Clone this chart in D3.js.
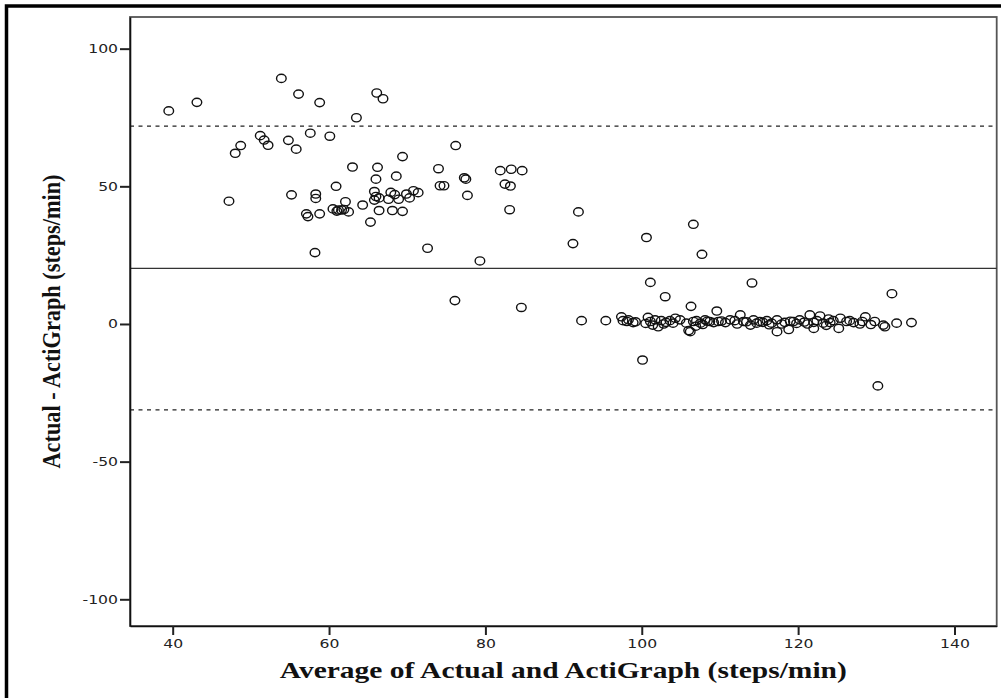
<!DOCTYPE html>
<meta charset="utf-8">
<head>
<script src="https://d3js.org/d3.v7.min.js"></script>
</head>
<style>
    html, body { margin: 0; padding: 0; background: #fff; }
    .tick text { font-family: 'DejaVu Sans', Verdana, sans-serif; font-size: 12.5px; fill: #222; }
    .axis-title { font-family: 'Liberation Serif', 'Times New Roman', serif; font-weight: bold; fill: #111; }
</style>
<body>
<svg width="1001" height="698"></svg>
<script>
    // average of the two methods (x) and their difference (y)
    var avgSteps = [
        39.5, 43.1, 53.9, 56.1, 58.8, 66.1, 66.9, 63.5, 51.2, 51.7, 52.2, 48.7, 48.0, 54.8, 55.8, 57.6,
        60.1, 69.4, 76.2, 47.2, 55.2, 58.3, 58.3, 58.8, 57.1, 57.3, 58.2, 60.9, 63.0, 66.2, 66.0, 68.6,
        62.1, 60.5, 61.2, 61.6, 62.5, 61.0, 61.9, 64.3, 65.3, 65.8, 66.0, 65.8, 66.4, 67.6, 67.9, 68.4,
        68.9, 66.4, 68.1, 69.4, 69.9, 70.3, 70.8, 71.4, 74.0, 81.9, 83.3, 84.7, 74.2, 74.7, 77.3, 77.5,
        82.5, 83.2, 77.7, 83.1, 91.9, 72.6, 91.2, 79.3, 76.1, 84.6, 100.6, 106.6, 107.7, 101.1, 114.1, 132.0,
        103.0, 106.3, 109.6, 100.1, 130.2, 92.3,
        95.4, 97.4, 97.6, 98.1, 98.9, 100.8, 101.1, 101.7, 102.1, 102.5, 102.8, 103.6, 104.3, 104.9, 105.7, 106.0,
        106.2, 106.6, 107.0, 107.5, 108.1, 108.7, 109.2, 110.7, 111.3, 111.9, 112.6, 113.0, 113.9, 114.3, 115.1, 116.0,
        116.6, 117.3, 117.3, 117.9, 118.8, 119.4, 120.2, 121.5, 122.0, 122.4, 122.8, 123.2, 123.9, 124.5, 125.2, 125.4,
        126.2, 127.1, 127.9, 128.6, 129.8, 130.9, 131.1, 132.6, 134.5,
        98.3, 99.2, 100.5, 101.4, 103.1, 104.0, 106.9, 107.8, 108.4, 109.8, 110.2, 112.2, 113.4, 114.7, 115.5, 116.3,
        118.3, 119.0, 119.8, 120.8, 121.2, 122.0, 123.6, 124.1, 126.6, 128.2, 129.3
    ];
    var diffSteps = [
        77.4, 80.5, 89.2, 83.5, 80.4, 83.9, 81.8, 74.9, 68.4, 66.8, 64.9, 64.8, 62.0, 66.7, 63.5, 69.3,
        68.2, 60.8, 64.8, 44.6, 46.9, 47.2, 45.6, 40.0, 40.0, 39.0, 25.9, 50.0, 57.0, 56.9, 52.6, 53.7,
        44.4, 41.8, 41.4, 41.4, 40.7, 41.0, 41.6, 43.2, 37.0, 48.1, 46.3, 45.0, 45.8, 45.3, 47.8, 47.0,
        45.3, 41.2, 41.2, 40.9, 47.2, 45.8, 48.4, 47.7, 56.4, 55.7, 56.2, 55.7, 50.2, 50.2, 53.1, 52.6,
        50.8, 50.1, 46.7, 41.5, 40.7, 27.5, 29.2, 22.9, 8.5, 6.0, 31.4, 36.2, 25.3, 15.1, 14.9, 11.0,
        9.9, 6.4, 4.7, -13.1, -22.5, 1.2,
        1.2, 2.6, 1.2, 0.9, 0.5, 2.4, 0.9, 1.5, -1.0, 1.2, 0.0, 1.2, 2.1, 1.5, 0.3, -2.4,
        -2.8, 0.9, 1.2, 0.3, 1.5, 0.9, 0.5, 0.5, 1.5, 1.2, 3.3, 0.9, -0.4, 1.5, 0.9, 1.2,
        0.3, 1.5, -2.8, 0.0, -2.0, 0.9, 1.5, 3.3, -1.6, 1.2, 2.9, 0.3, 1.8, 1.2, -1.6, 2.1,
        0.9, 0.5, 0.0, 2.6, 0.9, -0.4, -1.0, 0.3, 0.5,
        1.5, 0.8, 0.2, -0.4, 0.6, 0.3, -0.8, -0.2, 1.0, 0.9, 1.1, 0.0, 0.8, 0.3, 0.6, -0.3,
        0.6, 1.0, 0.2, 0.7, 0.0, 0.6, -0.5, 0.5, 1.2, 0.9, -0.2
    ];
    var xTicks = [40, 60, 80, 100, 120, 140];
    var yTicks = [100, 50, 0, -50, -100];
    var meanDiff = 20.2;
    var limitsOfAgreement = [71.9, -31.2];

    var svg = d3.select("svg");
    var plotLeft = 130, plotRight = 996.7, plotTop = 17, plotBottom = 626;

    // outer frame (only top and left are inside the picture)
    svg.append("rect")
        .attr("x", 6.5).attr("y", 6)
        .attr("width", 1200).attr("height", 1000)
        .attr("fill", "none")
        .attr("stroke", "#000")
        .attr("stroke-width", 3.5);

    var x = d3.scaleLinear().domain([34.54, 145.4]).range([plotLeft, plotRight]);
    var y = d3.scaleLinear().domain([-109.7, 111.5]).range([plotBottom, plotTop]);

    // plot box
    svg.append("rect")
        .attr("x", plotLeft).attr("y", plotTop)
        .attr("width", plotRight - plotLeft).attr("height", plotBottom - plotTop)
        .attr("fill", "none")
        .attr("stroke", "#555")
        .attr("stroke-width", 1.8);

    // reference lines
    svg.append("line")
        .attr("x1", plotLeft).attr("x2", plotRight)
        .attr("y1", y(meanDiff)).attr("y2", y(meanDiff))
        .attr("stroke", "#333").attr("stroke-width", 1.4);
    svg.selectAll(".loa")
        .data(limitsOfAgreement)
        .enter().append("line")
        .attr("class", "loa")
        .attr("x1", plotLeft).attr("x2", plotRight)
        .attr("y1", function (d) { return y(d); })
        .attr("y2", function (d) { return y(d); })
        .attr("stroke", "#222").attr("stroke-width", 1.3)
        .attr("stroke-dasharray", "4,4.5");

    // axes (plain hyphen for negatives, like the original)
    var plain = function (d) { return String(d); };
    var xAxis = svg.append("g")
        .attr("transform", "translate(0," + plotBottom + ")")
        .call(d3.axisBottom(x).tickValues(xTicks).tickFormat(plain).tickSize(9).tickPadding(4).tickSizeOuter(0));
    var yAxis = svg.append("g")
        .attr("transform", "translate(" + plotLeft + ",0)")
        .call(d3.axisLeft(y).tickValues(yTicks).tickFormat(plain).tickSize(10).tickPadding(2).tickSizeOuter(0));
    xAxis.select(".domain").attr("stroke", "#111").attr("stroke-width", 1.6);
    yAxis.select(".domain").attr("stroke", "#111").attr("stroke-width", 1.6);
    svg.selectAll(".tick line").attr("stroke", "#222").attr("stroke-width", 2);

    // the picture is stretched sideways, so widen tick labels a bit
    svg.selectAll(".tick text").each(function () {
        var w = this.getComputedTextLength();
        d3.select(this).attr("textLength", w * 1.25).attr("lengthAdjust", "spacingAndGlyphs");
    });

    // points
    svg.append("g")
        .selectAll("ellipse")
        .data(avgSteps)
        .enter().append("ellipse")
        .attr("cx", function (d) { return x(d); })
        .attr("cy", function (d, i) { return y(diffSteps[i]); })
        .attr("rx", 4.8).attr("ry", 4.1)
        .attr("fill", "none")
        .attr("stroke", "#111")
        .attr("stroke-width", 1.4);

    // axis titles
    svg.append("text")
        .attr("class", "axis-title")
        .attr("x", (plotLeft + plotRight) / 2)
        .attr("y", 678)
        .attr("text-anchor", "middle")
        .style("font-size", "23px")
        .attr("textLength", 567)
        .attr("lengthAdjust", "spacingAndGlyphs")
        .text("Average of Actual and ActiGraph (steps/min)");

    svg.append("text")
        .attr("class", "axis-title")
        .attr("transform", "translate(60," + ((plotTop + plotBottom) / 2) + ") rotate(-90) scale(1,1.3)")
        .attr("text-anchor", "middle")
        .style("font-size", "20px")
        .attr("textLength", 294)
        .attr("lengthAdjust", "spacingAndGlyphs")
        .text("Actual - ActiGraph (steps/min)");
</script>
</body>
